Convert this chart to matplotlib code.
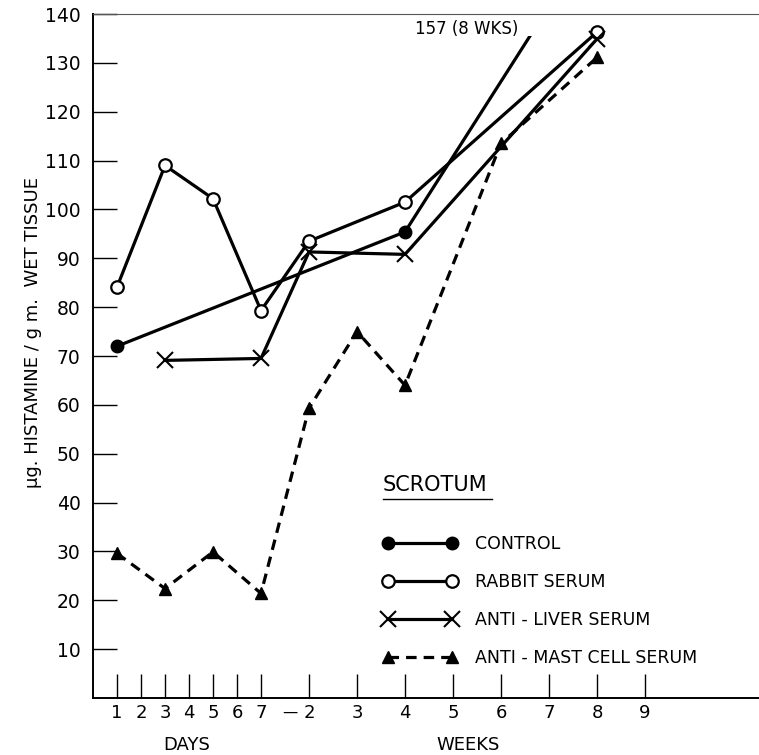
import matplotlib

matplotlib.use("Agg")
import matplotlib.pyplot as plt
from matplotlib.lines import Line2D
from matplotlib.patches import Rectangle

plt.rcParams["font.family"] = ["DejaVu Sans"]

# x position: days 1..7 -> 1..7, weeks w -> 7 + 2*(w-1)
def wk(w):
    return 7 + 2 * (w - 1)

# data (ug histamine / g wet tissue)
control_x = [1, wk(4), wk(8)]
control_y = [72, 95.4, 157]

rabbit_x = [1, 3, 5, 7, wk(2), wk(4), wk(8)]
rabbit_y = [84.1, 109, 102.2, 79.3, 93.5, 101.5, 136.3]

liver_x = [3, 7, wk(2), wk(4), wk(8)]
liver_y = [69.1, 69.5, 91.3, 90.8, 134.9]

mast_x = [1, 3, 5, 7, wk(2), wk(3), wk(4), wk(6), wk(8)]
mast_y = [29.6, 22.4, 29.9, 21.4, 59.3, 75.0, 64.0, 113.5, 131.1]

day_ticks = [1, 2, 3, 4, 5, 6, 7]
week_nums = [2, 3, 4, 5, 6, 7, 8, 9]
y_ticks = list(range(10, 150, 10))

W, H = 759, 755
fig = plt.figure(figsize=(W / 100, H / 100), dpi=100, facecolor="white")
ax = fig.add_axes([93 / W, (H - 698) / H, (W - 93) / W, (698 - 14) / H])
ax.set_xlim(0, 666 / 24)
ax.set_ylim(0, 140)

lw = 2.3
ctl, = ax.plot(control_x, control_y, color="black", lw=lw, marker="o", ms=9,
               mfc="black", mec="black", label="CONTROL")
# control line is cut short under the "157 (8 WKS)" note
ctl.set_clip_path(Rectangle((0, 0), 40, 135.5, transform=ax.transData))
ax.plot(rabbit_x, rabbit_y, color="black", lw=lw, marker="o", ms=9,
        mfc="white", mec="black", mew=1.6, label="RABBIT SERUM")
ax.plot(liver_x, liver_y, color="black", lw=lw, marker="x", ms=11, mew=1.5,
        label="ANTI - LIVER SERUM")
ax.plot(mast_x, mast_y, color="black", lw=lw, dashes=(3.3, 2.2), marker="^", ms=9,
        mfc="black", mec="black", label="ANTI - MAST CELL SERUM")

ax.text(13.4, 137, "157 (8 WKS)", fontsize=12, ha="left", va="center")

# axes styling
ax.spines["right"].set_visible(False)
ax.spines["top"].set_linewidth(0.8)
ax.spines["top"].set_color("#555555")
ax.spines["left"].set_linewidth(1.4)
ax.spines["bottom"].set_linewidth(1.4)

ax.set_yticks(y_ticks)
ax.set_yticklabels([str(v) for v in y_ticks])
ax.tick_params(axis="y", direction="in", length=17, width=1, labelsize=13.5, pad=9)

xt = day_ticks + [wk(w) for w in week_nums]
ax.set_xticks(xt)
ax.set_xticklabels([str(d) for d in day_ticks] + [str(w) for w in week_nums])
ax.tick_params(axis="x", direction="in", length=17, width=1, labelsize=13, pad=4)
# dash between the day and week scales
ax.text(8.2, -3.0, "\u2014", fontsize=11, ha="center", va="center",
        transform=ax.transData, clip_on=False)

fig.text(187 / W, 1 - 745 / H, "DAYS", fontsize=13, ha="center", va="center")
fig.text(468 / W, 1 - 745 / H, "WEEKS", fontsize=13, ha="center", va="center")
fig.text(33 / W, 1 - 332 / H, "\u03bcg. HISTAMINE / g m.  WET TISSUE", fontsize=13,
         rotation=90, ha="center", va="center")

# legend
fig.text(383 / W, 1 - 485 / H, "SCROTUM", fontsize=15, ha="left", va="center")
fig.add_artist(Line2D([383 / W, 492 / W], [1 - 499 / H, 1 - 499 / H],
                      transform=fig.transFigure, color="black", lw=1))
leg = ax.legend(loc="upper left", bbox_to_anchor=(383 / W, 1 - 535 / H),
                bbox_transform=fig.transFigure, frameon=False, fontsize=12.5,
                numpoints=2, handlelength=4.3, handletextpad=1.0,
                labelspacing=1.15, borderpad=0, borderaxespad=0)

fig.savefig("out.png", dpi=100, facecolor="white")
